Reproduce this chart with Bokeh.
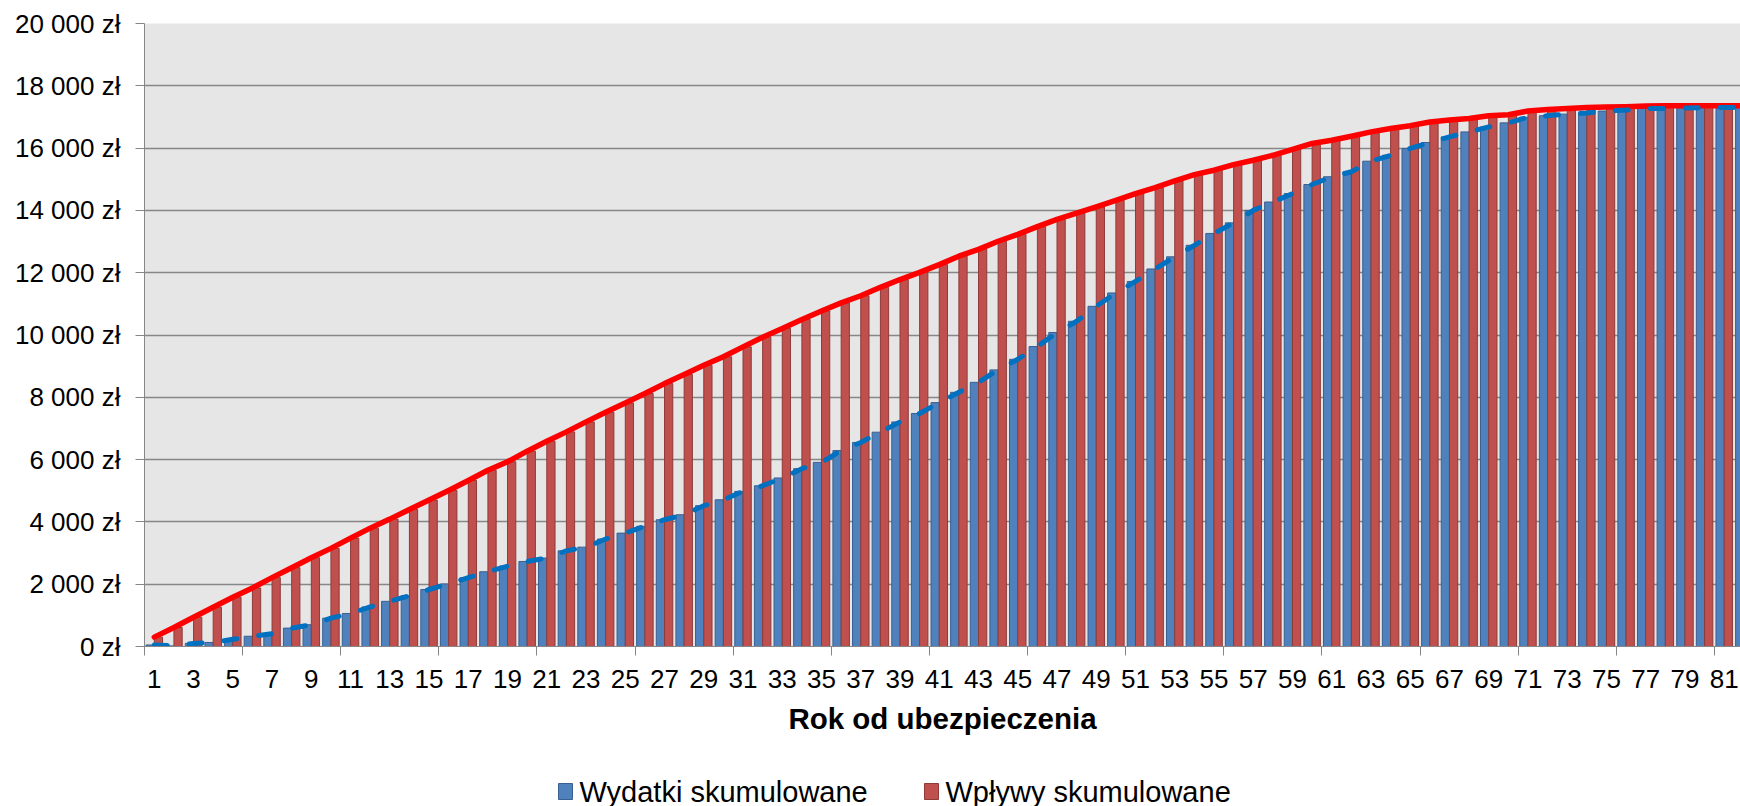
from bokeh.plotting import figure
from bokeh.models import FixedTicker, Range1d, ColumnDataSource
from bokeh.layouts import column
from bokeh.transform import dodge
from bokeh.core.properties import value
from bokeh.embed import file_html
from bokeh.resources import INLINE

years = list(range(1, 83))

wydatki = [50, 20, 100, 130, 230, 330, 410, 590, 700, 910,
           1060, 1270, 1450, 1630, 1830, 2010, 2210, 2400, 2580, 2730,
           2840, 3070, 3190, 3450, 3640, 3860, 4070, 4230, 4520, 4710,
           4980, 5160, 5410, 5710, 5910, 6290, 6550, 6880, 7210, 7480,
           7830, 8160, 8480, 8880, 9220, 9630, 10080, 10440, 10920, 11350,
           11720, 12120, 12510, 12880, 13260, 13600, 14000, 14270, 14540, 14830,
           15080, 15240, 15580, 15770, 15990, 16180, 16360, 16520, 16680, 16810,
           16990, 17040, 17090, 17130, 17190, 17220, 17270, 17270, 17290, 17300,
           17300, 17300]

wplywy = [300, 610, 940, 1260, 1580, 1880, 2210, 2530, 2850, 3150,
          3480, 3800, 4090, 4400, 4700, 5010, 5330, 5660, 5930, 6270,
          6590, 6890, 7210, 7520, 7820, 8120, 8440, 8730, 9030, 9300,
          9620, 9930, 10210, 10500, 10770, 11030, 11260, 11530, 11780, 12010,
          12260, 12530, 12750, 13010, 13230, 13480, 13710, 13910, 14110, 14320,
          14540, 14730, 14950, 15150, 15290, 15470, 15610, 15770, 15960, 16150,
          16250, 16380, 16520, 16630, 16720, 16840, 16900, 16950, 17040, 17070,
          17190, 17240, 17270, 17300, 17320, 17330, 17350, 17360, 17360, 17360,
          17360, 17360]

x_labels = list(range(1, 83, 2))
x_tick_marks = [0.5 + 5 * i for i in range(17)]
y_ticks = list(range(0, 20001, 2000))
y_labels = ["0 zł", "2 000 zł", "4 000 zł", "6 000 zł", "8 000 zł", "10 000 zł",
            "12 000 zł", "14 000 zł", "16 000 zł", "18 000 zł", "20 000 zł"]

x_title = "Rok od ubezpieczenia"
legend_names = ["Wydatki skumulowane", "Wpływy skumulowane"]
legend_fill = ["#4F81BD", "#C0504D"]
legend_line = ["#3A6091", "#8E3B39"]

FONT = "Liberation Sans"

p = figure(width=1740, height=756,
           x_range=Range1d(0.5, 81.83), y_range=Range1d(0, 20000),
           output_backend="svg", toolbar_location=None,
           min_border_left=144, min_border_right=0, min_border_top=23,
           min_border_bottom=110)

p.background_fill_color = "#e6e6e6"
p.border_fill_color = "white"
p.outline_line_color = None

source = ColumnDataSource(dict(x=years, b=wydatki, r=wplywy))

bw = 0.42
p.vbar(x=dodge("x", -bw / 2, range=p.x_range), top="b", width=bw, source=source,
       fill_color=legend_fill[0], line_color=legend_line[0], line_width=1)
p.vbar(x=dodge("x", bw / 2, range=p.x_range), top="r", width=bw, source=source,
       fill_color=legend_fill[1], line_color=legend_line[1], line_width=1)

p.line(x="x", y="r", source=source, line_color="#FF0000", line_width=5.5,
       line_join="round", line_cap="round")
p.line(x="x", y="b", source=source, line_color="#0070C0", line_width=5,
       line_dash="13 22", line_cap="round")

# grid
p.xgrid.grid_line_color = None
p.ygrid.grid_line_color = "#878787"
p.ygrid.grid_line_width = 1.3
p.ygrid.ticker = FixedTicker(ticks=y_ticks)

# y axis
ya = p.yaxis[0]
ya.ticker = FixedTicker(ticks=y_ticks)
ya.major_label_overrides = {t: l for t, l in zip(y_ticks, y_labels)}
ya.axis_line_color = "#868686"
ya.major_tick_line_color = "#868686"
ya.major_tick_out = 9
ya.major_tick_in = 0
ya.minor_tick_line_color = None
ya.major_label_text_font = FONT
ya.major_label_text_font_size = "26px"
ya.major_label_text_color = "#000000"
ya.major_label_standoff = 15

# x axis
xa = p.xaxis[0]
xa.ticker = FixedTicker(ticks=x_labels, minor_ticks=x_tick_marks)
xa.axis_line_color = "#868686"
xa.major_tick_line_color = None
xa.minor_tick_line_color = "#868686"
xa.minor_tick_out = 9
xa.minor_tick_in = 0
xa.major_label_text_font = FONT
xa.major_label_text_font_size = "26px"
xa.major_label_text_color = "#000000"
xa.major_label_standoff = 14
xa.axis_label = x_title
xa.axis_label_text_font = FONT
xa.axis_label_text_font_size = "29.5px"
xa.axis_label_text_font_style = "bold"
xa.axis_label_text_color = "#000000"
xa.axis_label_standoff = 11

# legend strip: frame aligned with main frame, x data = page pixels
lg = figure(width=1740, height=50, x_range=Range1d(144, 1740), y_range=Range1d(0, 50),
            output_backend="svg", toolbar_location=None,
            min_border_left=144, min_border_right=0, min_border_top=0, min_border_bottom=0)
lg.axis.visible = False
lg.grid.visible = False
lg.outline_line_color = None
lg.background_fill_color = "white"
lg.border_fill_color = "white"

leg = ColumnDataSource(dict(gx=[565, 931], tx=[579, 945], y=[15, 15],
                            name=legend_names, fill=legend_fill, line=legend_line))
lg.rect(x="gx", y="y", width=14, height=16, source=leg,
        fill_color="fill", line_color="line", line_width=1)
lg.text(x="tx", y="y", text="name", source=leg, text_baseline="middle",
        text_align="left", text_font=value(FONT),
        text_font_size="29px", text_color="#000000")

layout = column(p, lg, spacing=0)
open("out.html", "w").write(file_html(layout, INLINE))
